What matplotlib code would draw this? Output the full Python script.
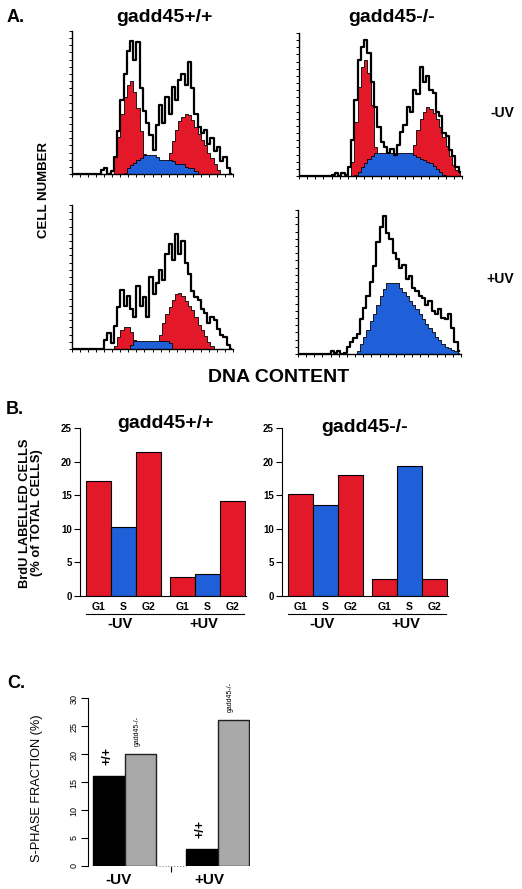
import matplotlib.pyplot as plt
import numpy as np

plt.rcParams['font.family'] = ['Liberation Sans', 'DejaVu Sans']

W, H = 522, 889
RED = '#e3192a'
BLUE = '#1f5fd8'
GRAY = '#a9a9a9'

# --- panel A: DNA content histograms (50 channels, bin centres 1..99) ---
channel = np.arange(1, 100, 2)

wt_minus_raw = [0, 0, 0, 0, 0, 0, 0, 0, 0, 3, 4, 0, 2, 12, 30, 52, 70, 86, 93, 80,
                92, 60, 44, 36, 27, 17, 34, 48, 36, 54, 42, 61, 52, 66, 70, 62, 78, 60, 42, 33,
                29, 31, 21, 25, 16, 19, 9, 12, 4, 0]
wt_minus_g1 = [0, 0, 0, 0, 0, 0, 0, 0, 0, 0, 0, 0, 0, 12, 26, 42, 54, 62, 65, 57,
               46, 30, 14, 4, 0, 0, 0, 0, 0, 0, 0, 0, 0, 0, 0, 0, 0, 0, 0, 0,
               0, 0, 0, 0, 0, 0, 0, 0, 0, 0]
wt_minus_s = [0, 0, 0, 0, 0, 0, 0, 0, 0, 0, 0, 0, 0, 0, 0, 0, 1, 4, 6, 8,
              10, 11, 13, 13, 13, 13, 12, 10, 10, 10, 10, 9, 7, 7, 7, 5, 4, 4, 2, 0,
              0, 0, 0, 0, 0, 0, 0, 0, 0, 0]
wt_minus_g2 = [0, 0, 0, 0, 0, 0, 0, 0, 0, 0, 0, 0, 0, 0, 0, 0, 0, 0, 0, 0,
               0, 0, 0, 0, 0, 0, 0, 0, 2, 8, 15, 23, 31, 37, 40, 42, 41, 38, 33, 28,
               24, 20, 15, 11, 7, 3, 0, 0, 0, 0]

ko_minus_raw = [0, 0, 0, 0, 0, 0, 0, 0, 0, 0, 1, 2, 0, 2, 1, 6, 25, 53, 81, 90,
                95, 86, 66, 48, 34, 24, 20, 16, 19, 15, 22, 31, 36, 48, 45, 60, 57, 76, 66, 70,
                60, 58, 45, 42, 30, 28, 18, 14, 6, 3]
ko_minus_g1 = [0, 0, 0, 0, 0, 0, 0, 0, 0, 0, 0, 0, 0, 0, 0, 0, 10, 38, 62, 76,
               81, 72, 50, 20, 0, 0, 0, 0, 0, 0, 0, 0, 0, 0, 0, 0, 0, 0, 0, 0,
               0, 0, 0, 0, 0, 0, 0, 0, 0, 0]
ko_minus_s = [0, 0, 0, 0, 0, 0, 0, 0, 0, 0, 0, 0, 0, 0, 0, 0, 0, 1, 3, 6,
              9, 12, 14, 16, 16, 16, 16, 16, 16, 16, 16, 16, 16, 16, 16, 15, 13, 12, 11, 10,
              9, 7, 5, 3, 1, 0, 0, 0, 0, 0]
ko_minus_g2 = [0, 0, 0, 0, 0, 0, 0, 0, 0, 0, 0, 0, 0, 0, 0, 0, 0, 0, 0, 0,
               0, 0, 0, 0, 0, 0, 0, 0, 0, 0, 0, 0, 0, 0, 3, 22, 32, 40, 45, 48,
               47, 44, 40, 34, 27, 21, 14, 8, 4, 2]

wt_plus_raw = [0, 0, 0, 0, 0, 0, 0, 0, 0, 0, 6, 11, 4, 16, 29, 41, 30, 37, 28, 22,
               44, 30, 36, 22, 50, 38, 46, 55, 48, 66, 73, 62, 80, 66, 75, 60, 52, 40, 36, 34,
               28, 25, 18, 22, 20, 14, 10, 8, 3, 0]
wt_plus_g1 = [0, 0, 0, 0, 0, 0, 0, 0, 0, 0, 0, 0, 0, 2, 8, 13, 15, 15, 12, 6,
              0, 0, 0, 0, 0, 0, 0, 0, 0, 0, 0, 0, 0, 0, 0, 0, 0, 0, 0, 0,
              0, 0, 0, 0, 0, 0, 0, 0, 0, 0]
wt_plus_s = [0, 0, 0, 0, 0, 0, 0, 0, 0, 0, 0, 0, 0, 0, 0, 0, 0, 0, 3, 5.5,
             5.5, 5.5, 5.5, 5.5, 5.5, 5.5, 5.5, 5.5, 5.5, 5.5, 4, 0, 0, 0, 0, 0, 0, 0, 0, 0,
             0, 0, 0, 0, 0, 0, 0, 0, 0, 0]
wt_plus_g2 = [0, 0, 0, 0, 0, 0, 0, 0, 0, 0, 0, 0, 0, 0, 0, 0, 0, 0, 0, 0,
              0, 0, 0, 0, 0, 0, 3, 10, 18, 24, 29, 34, 38, 39, 37, 33, 30, 27, 22, 17,
              13, 9, 5, 2, 0, 0, 0, 0, 0, 0]

ko_plus_raw = [0, 0, 0, 0, 0, 0, 0, 0, 0, 0, 2, 1, 2, 0, 1, 5, 8, 11, 14, 24,
               32, 40, 50, 61, 78, 88, 96, 84, 80, 70, 66, 60, 62, 52, 54, 46, 44, 40, 39, 34,
               37, 30, 28, 31, 25, 24, 28, 18, 8, 2]
ko_plus_s = [0, 0, 0, 0, 0, 0, 0, 0, 0, 0, 0, 0, 0, 0, 0, 0, 0, 0, 2, 7,
             12, 17, 23, 28, 34, 40, 45, 49, 49, 49, 49, 46, 43, 40, 37, 34, 31, 28, 24, 21,
             18, 15, 12, 10, 7, 5, 4, 3, 2, 1]

# --- panel B: BrdU labelled cells (% of total) ---
phases = ['G1', 'S', 'G2']
phase_colors = [RED, BLUE, RED]
wt_brdu_minus = [17.1, 10.2, 21.4]
wt_brdu_plus = [2.9, 3.2, 14.2]
ko_brdu_minus = [15.2, 13.5, 18.0]
ko_brdu_plus = [2.5, 19.4, 2.5]

# --- panel C: S-phase fraction ---
uv_groups = ['-UV', '+UV']
wt_sphase = [16, 3]
ko_sphase = [20, 26]

fig = plt.figure(figsize=(W / 100, H / 100), dpi=100)


def px_axes(x0, y0, x1, y1):
    return fig.add_axes([x0 / W, 1 - y1 / H, (x1 - x0) / W, (y1 - y0) / H])


def ftext(x, y, s, **kw):
    fig.text(x / W, 1 - y / H, s, **kw)


def histo(ax, raw, g1=None, s=None, g2=None):
    for comp, col in ((g1, RED), (g2, RED), (s, BLUE)):
        if comp is not None:
            ax.fill_between(channel, comp, step='mid', facecolor=col,
                            edgecolor='black', lw=0.6)
    ax.step(channel, raw, where='mid', color='black', lw=1.6)
    ax.set_xlim(0, 100)
    ax.set_ylim(0, 100)
    ax.set_xticks(np.arange(0, 101, 5))
    ax.set_yticks(np.arange(0, 101, 5))
    ax.set_xticklabels([])
    ax.set_yticklabels([])
    ax.tick_params(length=2.2, width=0.7, direction='out')
    for sp in ['top', 'right']:
        ax.spines[sp].set_visible(False)
    ax.spines['left'].set_linewidth(1.0)
    ax.spines['bottom'].set_linewidth(1.0)


histo(px_axes(72, 31, 233, 174), wt_minus_raw, wt_minus_g1, wt_minus_s, wt_minus_g2)
histo(px_axes(299, 33, 462, 176), ko_minus_raw, ko_minus_g1, ko_minus_s, ko_minus_g2)
histo(px_axes(72, 205, 233, 349), wt_plus_raw, wt_plus_g1, wt_plus_s, wt_plus_g2)
histo(px_axes(298, 210, 461, 354), ko_plus_raw, None, ko_plus_s, None)

ftext(7, 18, 'A.', fontsize=13, fontweight='bold', va='center')
ftext(164, 17, 'gadd45+/+', fontsize=14, fontweight='bold', ha='center', va='center')
ftext(392, 17, 'gadd45-/-', fontsize=14, fontweight='bold', ha='center', va='center')
ftext(502, 113, '-UV', fontsize=10, fontweight='bold', ha='center', va='center')
ftext(500, 279, '+UV', fontsize=10, fontweight='bold', ha='center', va='center')
ftext(44, 190, 'CELL NUMBER', fontsize=9.5, fontweight='bold', ha='center',
      va='center', rotation=90)
ftext(279, 378, 'DNA CONTENT', fontsize=14, fontweight='bold', ha='center', va='center')

# panel B
off = 3.35
pos_minus = np.arange(3)
pos_plus = pos_minus + off


def brdu(ax, minus, plus):
    ax.bar(pos_minus, minus, width=1, color=phase_colors, edgecolor='black', lw=0.8)
    ax.bar(pos_plus, plus, width=1, color=phase_colors, edgecolor='black', lw=0.8)
    ax.set_xlim(-0.74, 5.9)
    ax.set_ylim(0, 25)
    ax.set_yticks(np.arange(0, 26, 5))
    ax.set_xticks(list(pos_minus) + list(pos_plus))
    ax.set_xticklabels(phases + phases, fontsize=7.5, fontweight='bold')
    ax.tick_params(axis='x', length=0, pad=4)
    ax.tick_params(axis='y', length=4, width=0.8, labelsize=7, pad=2)
    for lab in ax.get_yticklabels():
        lab.set_fontweight('bold')
    for sp in ['top', 'right']:
        ax.spines[sp].set_visible(False)
    tr = ax.get_xaxis_transform()
    ax.plot([-0.5, off + 2.45], [-0.107, -0.107], color='black', lw=0.8,
            transform=tr, clip_on=False)
    ax.text(0.86, -0.165, uv_groups[0], transform=tr, ha='center', va='center',
            fontsize=10.5, fontweight='bold')
    ax.text(4.2, -0.165, uv_groups[1], transform=tr, ha='center', va='center',
            fontsize=10.5, fontweight='bold')


ax_b1 = px_axes(80, 428, 246, 596)
brdu(ax_b1, wt_brdu_minus, wt_brdu_plus)
ax_b2 = px_axes(282, 428, 448, 596)
brdu(ax_b2, ko_brdu_minus, ko_brdu_plus)

ftext(6, 409, 'B.', fontsize=13, fontweight='bold', va='center')
ftext(165, 424, 'gadd45+/+', fontsize=14, fontweight='bold', ha='center', va='center')
ftext(365, 428, 'gadd45-/-', fontsize=14, fontweight='bold', ha='center', va='center')
ftext(31, 513, 'BrdU LABELLED CELLS\n(% of TOTAL CELLS)', fontsize=9.3,
      fontweight='bold', ha='center', va='center', rotation=90, linespacing=1.0)

# panel C
ax_c = px_axes(88, 698, 250, 866)
pos_wt = np.array([0, 2.95])
pos_ko = pos_wt + 1
ax_c.bar(pos_wt, wt_sphase, width=1, color='black', edgecolor='black', lw=1)
ax_c.bar(pos_ko, ko_sphase, width=1, color=GRAY, edgecolor='#202020', lw=1)
ax_c.set_xlim(-0.66, 4.48)
ax_c.set_ylim(0, 30)
ax_c.set_yticks(np.arange(0, 31, 5))
ax_c.tick_params(axis='y', length=5, width=0.8, labelsize=6.5, labelrotation=90, pad=2)
ax_c.set_xticks([1.975])
ax_c.set_xticklabels([''])
ax_c.tick_params(axis='x', length=4, width=0.8)
for sp in ['top', 'right', 'bottom']:
    ax_c.spines[sp].set_visible(False)
ax_c.plot([1.5, 2.45], [0, 0], color='#888888', lw=0.8, ls=':', clip_on=False)
for x, v in zip(pos_wt, wt_sphase):
    ax_c.text(x - 0.05, v + 2.0, '+/+', rotation=90, ha='center', va='bottom',
              fontsize=9, fontweight='bold')
for x, v in zip(pos_ko, ko_sphase):
    ax_c.text(x - 0.1, v + 1.5, 'gadd45-/-', rotation=90, ha='center', va='bottom',
              fontsize=5)
trc = ax_c.get_xaxis_transform()
ax_c.text(0.3, -0.085, uv_groups[0], transform=trc, ha='center', va='center',
          fontsize=11, fontweight='bold')
ax_c.text(3.2, -0.085, uv_groups[1], transform=trc, ha='center', va='center',
          fontsize=11, fontweight='bold')

ftext(7, 684, 'C.', fontsize=13, fontweight='bold', va='center')
ftext(37, 788, 'S-PHASE FRACTION (%)', fontsize=9.2, ha='center', va='center',
      rotation=90)

fig.savefig('out.png', dpi=100)
